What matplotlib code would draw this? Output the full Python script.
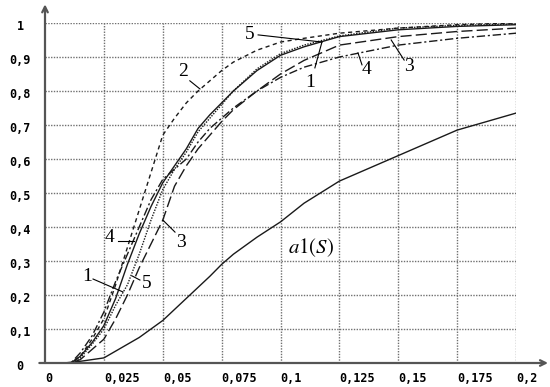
import numpy as np
import matplotlib
matplotlib.use("Agg")
import matplotlib.pyplot as plt

# ---- data ----
x_pts = [0, 0.011, 0.015, 0.02, 0.025, 0.03, 0.035, 0.04, 0.045, 0.05, 0.055, 0.06,
         0.065, 0.07, 0.075, 0.08, 0.09, 0.1, 0.11, 0.125, 0.15, 0.175, 0.2]
curve1 = [0, 0, 0.02, 0.06, 0.11, 0.19, 0.29, 0.38, 0.46, 0.53, 0.58, 0.63,
          0.69, 0.73, 0.765, 0.80, 0.86, 0.905, 0.93, 0.96, 0.98, 0.99, 0.995]
curve2 = [0, 0, 0.02, 0.07, 0.13, 0.23, 0.34, 0.45, 0.56, 0.67, 0.72, 0.765,
          0.80, 0.83, 0.86, 0.885, 0.92, 0.944, 0.955, 0.97, 0.985, 0.995, 1.0]
curve3 = [0, 0, 0.01, 0.04, 0.07, 0.13, 0.20, 0.28, 0.35, 0.42, 0.52, 0.58,
          0.63, 0.67, 0.71, 0.745, 0.80, 0.85, 0.89, 0.935, 0.96, 0.975, 0.985]
curve4 = [0, 0, 0.03, 0.08, 0.15, 0.24, 0.32, 0.40, 0.48, 0.54, 0.57, 0.60,
          0.65, 0.69, 0.72, 0.75, 0.80, 0.84, 0.87, 0.90, 0.935, 0.955, 0.97]
curve5 = [0, 0, 0.015, 0.055, 0.10, 0.17, 0.23, 0.32, 0.42, 0.51, 0.57, 0.62,
          0.68, 0.72, 0.76, 0.80, 0.865, 0.91, 0.935, 0.962, 0.985, 0.993, 0.997]

xa = [0, 0.008, 0.015, 0.02, 0.025, 0.03, 0.04, 0.05, 0.06, 0.07, 0.075, 0.08,
      0.09, 0.1, 0.11, 0.125, 0.15, 0.175, 0.2]
a1 = [0, 0, 0.005, 0.01, 0.015, 0.035, 0.075, 0.125, 0.19, 0.255, 0.29, 0.32,
      0.37, 0.415, 0.47, 0.535, 0.61, 0.685, 0.735]

xticks = [0, 0.025, 0.05, 0.075, 0.1, 0.125, 0.15, 0.175, 0.2]
xtick_labels = ["0", "0,025", "0,05", "0,075", "0,1", "0,125", "0,15", "0,175", "0,2"]
yticks = [0, 0.1, 0.2, 0.3, 0.4, 0.5, 0.6, 0.7, 0.8, 0.9, 1.0]
ytick_labels = ["0", "0,1", "0,2", "0,3", "0,4", "0,5", "0,6", "0,7", "0,8", "0,9", "1"]

# ---- figure ----
W, H = 550, 387
fig = plt.figure(figsize=(5.5, 3.87), dpi=100)
L, R, T, B = 45, 516, 23, 363
ax = fig.add_axes([L / W, 1 - B / H, (R - L) / W, (B - T) / H])
ax.set_xlim(0, 0.2)
ax.set_ylim(0, 1)
for s in ax.spines.values():
    s.set_visible(False)
ax.set_xticks(xticks[1:])
ax.set_yticks(yticks[1:])
ax.tick_params(length=0, labelbottom=False, labelleft=False)
ax.grid(True, linestyle=(0, (1, 1)), color="#707070", linewidth=1.0)

lc = "#1a1a1a"
ax.plot(x_pts, curve1, color=lc, lw=1.0, ls="-")
ax.plot(x_pts, curve2, color=lc, lw=1.0, ls=(0, (3, 2.5)))
ax.plot(x_pts, curve3, color=lc, lw=1.0, ls=(0, (8, 3)))
ax.plot(x_pts, curve4, color=lc, lw=1.0, ls=(0, (6, 2, 1.5, 2)))
ax.plot(x_pts, curve5, color=lc, lw=1.0, ls=(0, (1, 1)))
ax.plot(xa, a1, color=lc, lw=1.0, ls="-")

# axes with arrows
ac = "#555555"
ax.annotate("", xy=(0, 1.055), xytext=(0, 0), xycoords="axes fraction",
            arrowprops=dict(arrowstyle="->", color=ac, lw=1.6, shrinkA=0, shrinkB=0),
            annotation_clip=False)
ax.annotate("", xy=(1.068, 0), xytext=(-0.012, 0), xycoords="axes fraction",
            arrowprops=dict(arrowstyle="->", color=ac, lw=1.6, shrinkA=0, shrinkB=0),
            annotation_clip=False)

# tick labels
tf = dict(family="DejaVu Sans Mono", weight="bold", size=8.5, color="black")
for v, lab in zip(xticks, xtick_labels):
    ax.annotate(lab, xy=(v, 0), xycoords="data", xytext=(0, -15),
                textcoords="offset pixels", ha="left", va="center", **tf,
                annotation_clip=False)
for v, lab in zip(yticks, ytick_labels):
    ax.annotate(lab, xy=(0, v), xycoords="data", xytext=(-25, -4),
                textcoords="offset pixels", ha="center", va="center", **tf,
                annotation_clip=False)

# curve labels
lf = dict(family="Liberation Serif", size=14, color="black", ha="center", va="center")
lk = dict(color="black", lw=0.8)
def label(txt, tx, ty, x0, y0, x1, y1):
    ax.text(tx, ty, txt, **lf)
    ax.plot([x0, x1], [y0, y1], **lk)

label("5", 0.087, 0.965, 0.0905, 0.965, 0.1176, 0.944)
label("2", 0.0586, 0.856, 0.0615, 0.83, 0.0658, 0.806)
label("1", 0.1125, 0.826, 0.1146, 0.868, 0.1176, 0.944)
label("4", 0.1367, 0.862, 0.1346, 0.877, 0.1329, 0.912)
label("3", 0.1545, 0.871, 0.1525, 0.891, 0.147, 0.95)
label("4", 0.0276, 0.368, 0.031, 0.359, 0.0378, 0.359)
label("1", 0.0178, 0.253, 0.0204, 0.247, 0.0331, 0.209)
label("5", 0.0432, 0.235, 0.0403, 0.244, 0.037, 0.256)
label("3", 0.0578, 0.353, 0.0552, 0.385, 0.0501, 0.42)

plt.rcParams["mathtext.fontset"] = "stix"
ax.text(0.113, 0.34, r"$a1(S)$", ha="center", va="center", size=15, color="black")

fig.savefig("out.png", dpi=100)
